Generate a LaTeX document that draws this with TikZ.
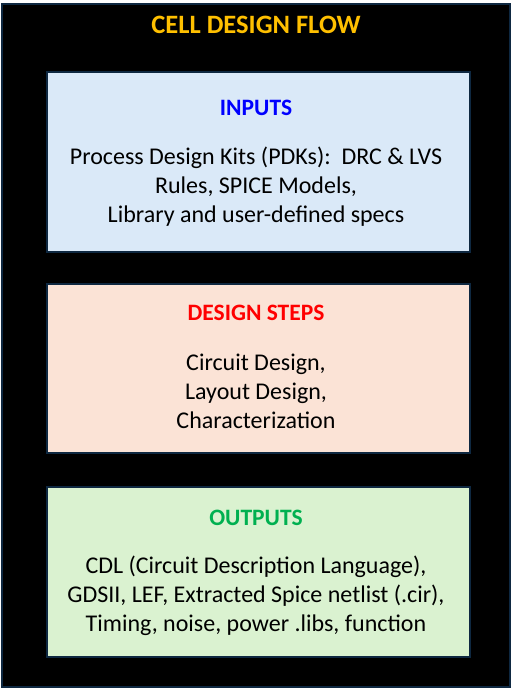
\documentclass[tikz,border=0pt]{standalone}
\usepackage{fontspec}
\setmainfont{Carlito}
\definecolor{edge}{HTML}{0E2841}
\definecolor{gold}{HTML}{FFC000}
\definecolor{inblue}{HTML}{DAE9F8}
\definecolor{stpeach}{HTML}{FBE3D6}
\definecolor{outgreen}{HTML}{DAF2D0}
\definecolor{ttlblue}{HTML}{0000FF}
\definecolor{ttlred}{HTML}{FF0000}
\definecolor{ttlgreen}{HTML}{00B050}
\tikzset{
  panel/.style={draw=edge, line width=2pt, minimum width=423pt, anchor=north west, inner sep=0pt},
  paneltitle/.style={font=\fontsize{23.5}{28}\selectfont\bfseries, inner sep=0pt},
  panelbody/.style={font=\fontsize{24}{29}\selectfont, align=center, inner sep=0pt, text=black},
}
\begin{document}
\begin{tikzpicture}[x=1pt,y=-1pt]
\useasboundingbox (0,0) rectangle (512,688);
\fill[white] (0,0) rectangle (512,688);
\draw[edge, fill=black, line width=2pt] (2,4) rectangle (510,687);
\node[text=gold, font=\fontsize{26.5}{32}\selectfont\bfseries, inner sep=0pt] (title) at (256,25) {CELL DESIGN FLOW};

\node[panel, fill=inblue, minimum height=180pt] (inbox) at (46,71) {};
\node[paneltitle, text=ttlblue] (inttl) at (256,108) {INPUTS};
\node[panelbody] (inbody) at (256,187) {Process Design Kits (PDKs):\ \ DRC \& LVS\\Rules, SPICE Models,\\Library and user-defined specs};

\node[panel, fill=stpeach, minimum height=169pt] (stbox) at (46,283) {};
\node[paneltitle, text=ttlred] (stttl) at (256,313) {DESIGN STEPS};
\node[panelbody] (stbody) at (256,391) {Circuit Design,\\Layout Design,\\Characterization};

\node[panel, fill=outgreen, minimum height=170pt] (outbox) at (46,486) {};
\node[paneltitle, text=ttlgreen] (outttl) at (256,518) {OUTPUTS};
\node[panelbody] (outbody) at (256,596) {CDL (Circuit Description Language),\\GDSII, LEF, Extracted Spice netlist (.cir),\\Timing, noise, power .libs, function};
\end{tikzpicture}
\end{document}
